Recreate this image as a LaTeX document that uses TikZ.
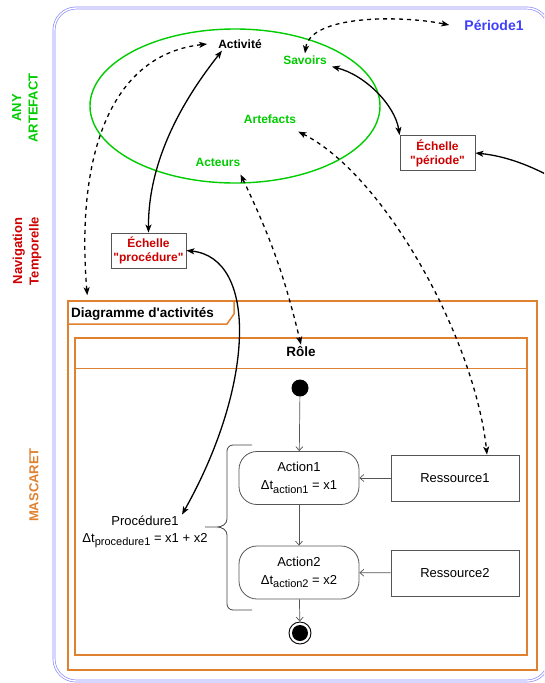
\documentclass[tikz,border=0pt]{standalone}
\usepackage{fontspec}
\setmainfont{Liberation Sans}[Ligatures=TeXOff]
\usetikzlibrary{shapes.geometric,arrows.meta,calc}
\definecolor{agreen}{HTML}{00CC00}
\definecolor{ared}{HTML}{CC0000}
\definecolor{ablue}{HTML}{3F3FFF}
\definecolor{fblue}{HTML}{8C8CFF}
\definecolor{aorange}{HTML}{E0812F}
\definecolor{agray}{HTML}{555555}
\newcommand\sbx[1]{\raisebox{-3.5pt}{\fontsize{11}{11}\selectfont #1}}
\tikzset{
  gl/.style={text=agreen,font=\bfseries\fontsize{12}{14}\selectfont,inner sep=2pt},
  scalebox/.style={draw=agray,line width=0.8pt,fill=white,minimum width=75pt,minimum height=35pt,align=center,text=ared,font=\bfseries\fontsize{12}{14}\selectfont,inner sep=1pt},
  actbox/.style={draw=agray,line width=0.8pt,rounded corners=18pt,minimum width=120pt,minimum height=53pt,align=center,font=\fontsize{13}{15}\selectfont},
  resbox/.style={draw=agray,line width=0.8pt,minimum width=128pt,minimum height=46pt,font=\fontsize{13}{15}\selectfont},
  orng/.style={draw=aorange,line width=1.5pt},
  sarr/.style={line width=1.3pt,{Stealth[length=8pt,width=6pt,inset=2pt]}-{Stealth[length=8pt,width=6pt,inset=2pt]}},
  darr/.style={sarr,dash pattern=on 4pt off 4pt},
  garr/.style={draw=agray,line width=0.7pt,-{Straight Barb[length=4pt,width=7pt]}},
  sidelbl/.style={rotate=90,align=center,font=\bfseries\fontsize{13}{16.5}\selectfont}
}
\begin{document}
\begin{tikzpicture}[x=1pt,y=-1pt]
\useasboundingbox (0,0) rectangle (544,683);
\clip (0,0) rectangle (544,683);
% blue frame
\draw[draw=fblue,line width=0.7pt,double=white,double distance=1.4pt,rounded corners=22pt] (54,8) rectangle (549,681);
\node[text=ablue,font=\bfseries\fontsize{14}{16}\selectfont,inner sep=2pt] (per) at (494,25) {Période1};
% side labels
\node[sidelbl,text=agreen] (anylbl) at (25,108) {ANY\\ARTEFACT};
\node[sidelbl,text=ared] (navlbl) at (27,251) {Navigation\\Temporelle};
\node[sidelbl,text=aorange] (masclbl) at (34,485) {MASCARET};
% ellipse
\node[draw=agreen,line width=1.4pt,ellipse,minimum width=290pt,minimum height=154pt] (ell) at (235,106) {};
\node[font=\bfseries\fontsize{12}{14}\selectfont,inner sep=2pt] (act) at (240,44) {Activité};
\node[gl] (sav) at (305,60) {Savoirs};
\node[gl] (art) at (270,119) {Artefacts};
\node[gl] (acteurs) at (218,162) {Acteurs};
% scale boxes
\node[scalebox] (ep) at (148.5,250.5) {Échelle\\"procédure"};
\node[scalebox] (epr) at (437.5,153) {Échelle\\"période"};
% activity diagram frame
\node[orng,minimum width=469pt,minimum height=369pt,inner sep=0] (diag) at (302.5,485.5) {};
\draw[orng,fill=white] (68,301) -- (234,301) -- (234,314) -- (227,324) -- (68,324) -- cycle;
\node[anchor=base west,font=\bfseries\fontsize{13.5}{15}\selectfont,inner sep=0] (diaglbl) at (71,317) {Diagramme d'activités};
\node[orng,minimum width=452pt,minimum height=317pt,inner sep=0] (lane) at (301,496.5) {};
\draw[draw=aorange,line width=1.6pt] (lane.west |- 0,368.5) -- (lane.east |- 0,368.5);
\node[font=\bfseries\fontsize{13.5}{15}\selectfont,inner sep=2pt] (role) at (301,352) {Rôle};
% activity nodes
\node[circle,fill=black,minimum size=17pt,inner sep=0] (ini) at (300,388) {};
\node[actbox] (a1) at (299,478) {Action1\\[3pt]Δt\sbx{action1} = x1};
\node[actbox] (a2) at (299,572.5) {Action2\\[3pt]Δt\sbx{action2} = x2};
\node[circle,draw=black,line width=0.9pt,minimum size=22pt,inner sep=0] (fin) at (300,633) {};
\fill (fin.center) circle (8);
\node[resbox] (r1) at (455,478) {Ressource1};
\node[resbox] (r2) at (455,573) {Ressource2};
\node[align=center,font=\fontsize{13}{16}\selectfont,inner sep=1pt] (proc) at (145,532) {Procédure1\\[1pt]Δt\sbx{procedure1} = x1 + x2};
% brace
\draw[draw=agray!80!black,line width=0.8pt] (252,445) -- (233,445) to[out=180,in=90] (227,451) -- (227,519) to[out=-90,in=0] (217,527) -- (205,527)
  (217,527) to[out=0,in=90] (227,535) -- (227,604) to[out=-90,in=180] (233,610) -- (252,610);
% gray arrows
\draw[garr] (ini) -- (a1);
\draw[garr] (a1) -- (a2);
\draw[garr] (a2) -- (fin);
\draw[garr] (r1) -- (a1);
\draw[garr] (r2) -- (a2);
% connectors
\draw[darr] ([xshift=20pt,yshift=5pt]diag.north west) .. controls (76,160) and (108,55) .. ([xshift=-9pt]act.west);
\draw[sarr] (ep.north) .. controls (148,150) and (195,85) .. ([xshift=-18pt]act.south);
\draw[darr] (sav.north) .. controls (310,15) and (400,15) .. ([xshift=-13pt]per.west);
\draw[sarr] ([xshift=3pt]sav.south east) .. controls (365,75) and (395,105) .. (epr.north west);
\coordinate (offr) at (562,183);
\draw[sarr] (epr.east) .. controls (505,156) and (530,165) .. (offr);
\draw[darr] ([xshift=-2pt,yshift=-6pt]acteurs.south east) to[bend left=6] (role.north);
\draw[darr] ([yshift=-6pt]art.south east) .. controls (385,175) and (475,340) .. ([xshift=32pt]r1.north);
\draw[sarr] (ep.east) .. controls (258,258) and (255,385) .. ([xshift=37pt]proc.north);
\end{tikzpicture}
\end{document}
